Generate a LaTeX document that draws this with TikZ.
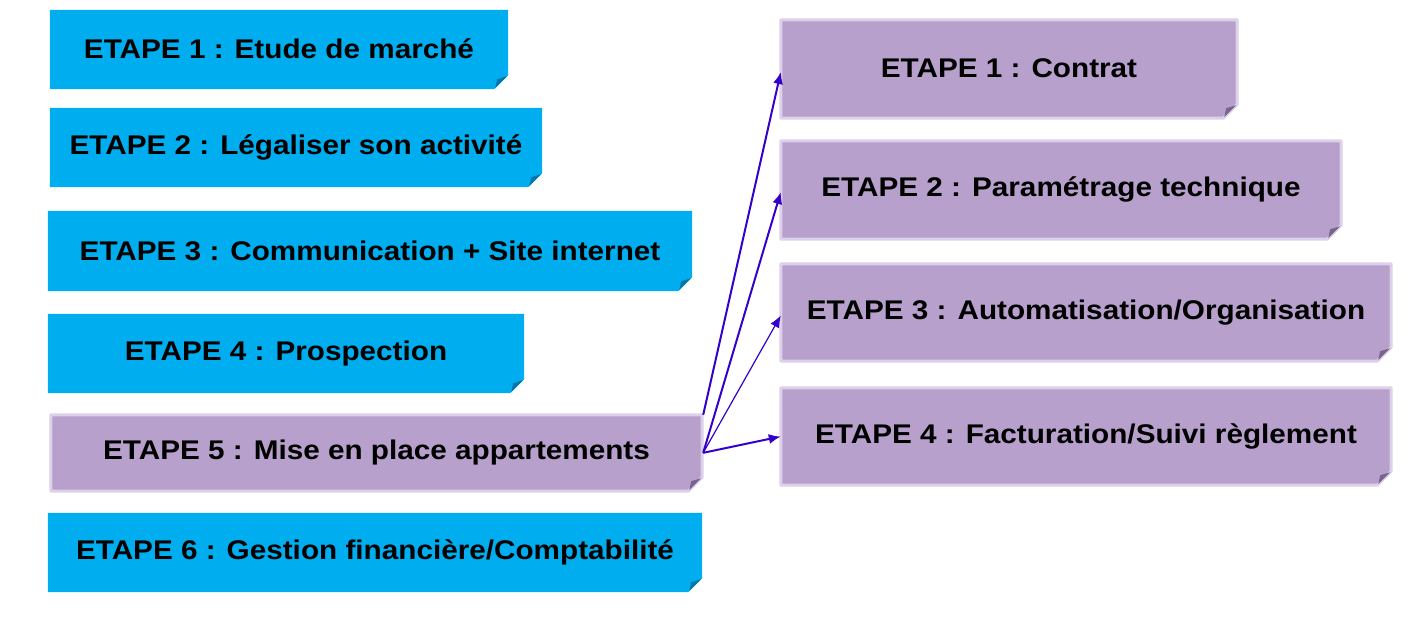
\documentclass[tikz,border=0pt]{standalone}
\usepackage{fontspec}
\setmainfont[FakeStretch=1.1]{Liberation Sans}
\usetikzlibrary{arrows.meta}
\definecolor{cyanbox}{RGB}{0,174,239}
\definecolor{cyanfold}{RGB}{0,120,175}
\definecolor{lilac}{RGB}{183,160,203}
\definecolor{lilacedge}{RGB}{220,208,234}
\definecolor{lilacfold}{RGB}{120,100,140}
\definecolor{arrowcol}{RGB}{51,0,204}
\tikzset{
  lbl/.style={inner sep=0pt, font=\fontsize{27}{31}\selectfont\bfseries, text=black},
  bluebox/.style={fill=cyanbox},
  bluefold/.style={fill=cyanfold},
  lilacbox/.style={fill=lilac, draw=lilacedge, line width=3pt, line join=round},
  lilacfold/.style={fill=lilacfold},
  conn/.style={draw=arrowcol, line width=2pt, -{Latex[length=12pt,width=10pt]}},
}
% #1 name, #2 x1, #3 y1, #4 x2, #5 y2, #6 box style, #7 fold style, #8 text
\newcommand\etapebox[8]{%
  \node[lbl, minimum width={(#4-#2)*1pt}, minimum height={(#5-#3)*1pt}] (#1) at ({(#2+#4)/2},{(#3+#5)/2}) {};
  \path[#6] (#1.north west) -- (#1.north east) -- ([yshift=14pt]#1.south east)
     -- ([xshift=-14pt]#1.south east) -- (#1.south west) -- cycle;
  \fill[#7] ([xshift=-13pt,yshift=1pt]#1.south east) -- ([xshift=-1pt,yshift=13pt]#1.south east)
     -- ([xshift=-11pt,yshift=10pt]#1.south east) -- cycle;
  \node[lbl] at ([yshift=0.3pt]#1.center) {#8};
}
\begin{document}
\begin{tikzpicture}[x=1pt,y=-1pt]
\useasboundingbox (0,0) rectangle (1421,619);
\etapebox{b1}{50}{10}{508}{89}{bluebox}{bluefold}{ETAPE 1 : Etude de marché}
\etapebox{b2}{50}{108}{542}{187}{bluebox}{bluefold}{ETAPE 2 : Légaliser son activité}
\etapebox{b3}{48}{211}{692}{291}{bluebox}{bluefold}{ETAPE 3 : Communication + Site internet}
\etapebox{b4}{48}{314}{524}{393}{bluebox}{bluefold}{ETAPE 4 : Prospection}
\etapebox{b6}{48}{513}{702}{592}{bluebox}{bluefold}{ETAPE 6 : Gestion financière/Comptabilité}
\etapebox{b5}{51}{415}{702}{491}{lilacbox}{lilacfold}{ETAPE 5 : Mise en place appartements}
\etapebox{p1}{781}{20}{1237}{118}{lilacbox}{lilacfold}{ETAPE 1 : Contrat}
\etapebox{p2}{781}{141}{1341}{239}{lilacbox}{lilacfold}{ETAPE 2 : Paramétrage technique}
\etapebox{p3}{781}{264}{1391}{361}{lilacbox}{lilacfold}{ETAPE 3 : Automatisation/Organisation}
\etapebox{p4}{781}{388}{1391}{485}{lilacbox}{lilacfold}{ETAPE 4 : Facturation/Suivi règlement}
\draw[conn] ([xshift=1pt]b5.north east) -- ([yshift=-3pt]p1.west);
\draw[conn] ([xshift=1pt,yshift=-38pt]b5.north east) -- ([yshift=-2pt]p2.west);
\draw[conn, line width=1.2pt] ([xshift=1pt,yshift=-38pt]b5.north east) -- ([yshift=-3pt]p3.west);
\draw[conn] ([xshift=1pt,yshift=-38pt]b5.north east) -- (p4.west);
\end{tikzpicture}
\end{document}
